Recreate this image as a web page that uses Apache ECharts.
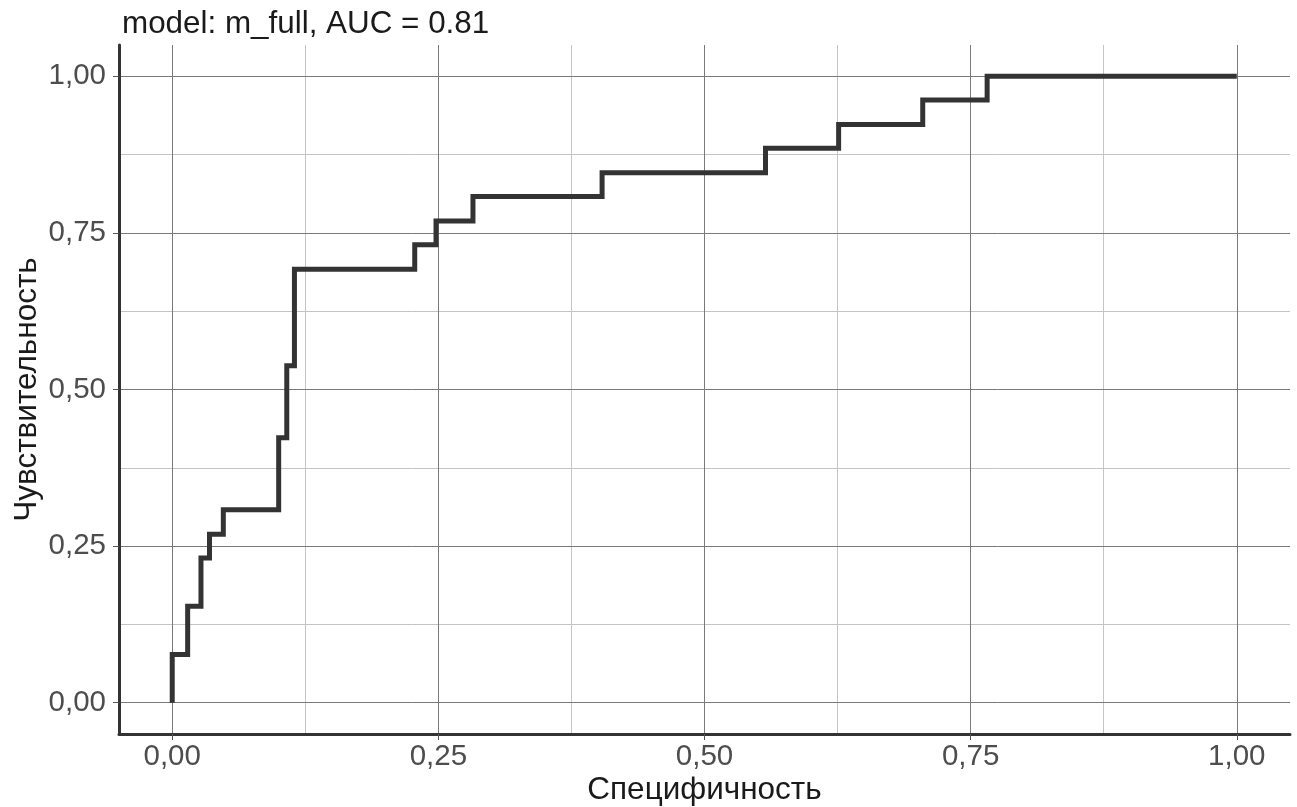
<!DOCTYPE html>
<html>
<head>
<meta charset="utf-8">
<script src="https://cdn.jsdelivr.net/npm/echarts@6/dist/echarts.min.js"></script>
<style>
html,body{margin:0;padding:0;background:#fff;}
#chart{width:1297px;height:807px;}
</style>
</head>
<body>
<div id="chart"></div>
<script>
// ROC curve corner points (top of each vertical jump)
const fpr = [0, 0, 0.0145, 0.027, 0.035, 0.048, 0.100, 0.1076, 0.1148, 0.2278, 0.2478, 0.2825, 0.4038, 0.5573, 0.626, 0.705, 0.7655, 1.0];
const tpr = [0, 0.077, 0.154, 0.231, 0.269, 0.308, 0.423, 0.538, 0.692, 0.731, 0.769, 0.808, 0.846, 0.885, 0.923, 0.962, 1.0, 1.0];
const majorTicks = [0, 0.25, 0.5, 0.75, 1];
const minorTicks = [0.125, 0.375, 0.625, 0.875];
const tickLabels = ['0,00', '0,25', '0,50', '0,75', '1,00'];
const titleText = 'model: m_full, AUC = 0.81';
const xName = 'Специфичность';
const yName = 'Чувствительность';

const FONT = 'Liberation Sans';
const points = fpr.map((x, i) => [x, tpr[i]]);
const fmt = v => tickLabels[majorTicks.findIndex(t => Math.abs(t - v) < 1e-9)] || '';

function mkAxis(isMinor, name, pos, labelMargin) {
  const base = {
    type: 'value', min: -0.05, max: 1.05, position: pos,
    splitLine: { show: true, lineStyle: { color: isMinor ? '#c4c4c4' : '#7a7a7a', width: 1 } },
    axisTick: { show: !isMinor, length: 6, customValues: isMinor ? minorTicks : majorTicks, lineStyle: { color: '#555', width: 1 } },
    axisLabel: { show: !isMinor, customValues: majorTicks, formatter: fmt, color: '#4d4d4d', fontSize: 29.5, fontFamily: FONT, margin: labelMargin },
    axisLine: { show: !isMinor, onZero: false, lineStyle: { color: '#333', width: 3 } },
    z: isMinor ? 0 : 1
  };
  if (!isMinor) {
    base.name = name;
    base.nameLocation = 'middle';
    base.nameMoveOverlap = false;
    base.nameTextStyle = { color: '#1a1a1a', fontSize: 31.5, fontFamily: FONT };
  }
  return base;
}

const xMajor = mkAxis(false, xName, 'bottom', 8); xMajor.nameGap = 40;
const xMinor = mkAxis(true, '', 'bottom', 8);
const yMajor = mkAxis(false, yName, 'left', 13); yMajor.nameGap = 76;
const yMinor = mkAxis(true, '', 'left', 13);

const chart = echarts.init(document.getElementById('chart'), null, { renderer: 'canvas' });
chart.setOption({
  animation: false,
  backgroundColor: '#fff',
  title: { text: titleText, left: 122, top: 9, padding: 0, textStyle: { color: '#1a1a1a', fontSize: 31.4, fontWeight: 'normal', fontFamily: FONT } },
  grid: { left: 119, right: 7, top: 45, bottom: 73, containLabel: false, outerBoundsMode: 'none' },
  xAxis: [xMinor, xMajor],
  yAxis: [yMinor, yMajor],
  series: [{
    type: 'line', xAxisIndex: 1, yAxisIndex: 1,
    data: points, step: 'end', symbol: 'none',
    lineStyle: { color: '#333333', width: 5, join: 'miter', cap: 'butt' },
    z: 5
  }]
});
</script>
</body>
</html>
